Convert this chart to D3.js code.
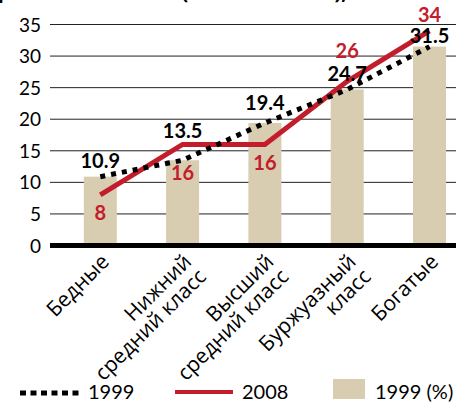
<!DOCTYPE html>
<html>
<head>
  <meta charset="utf-8">
  <script src="https://d3js.org/d3.v7.min.js"></script>
</head>
<style>
  body { margin: 0; background: #fff; }
  svg { display: block; }
  text { font-family: Lato, "Open Sans", sans-serif; }
  text.cyr { font-family: "Open Sans", sans-serif; }
</style>
<body>
<svg width="459" height="404"></svg>
<script>

  // data
  let categories = [["Бедные"], ["Нижний", "средний класс"], ["Высший", "средний класс"], ["Буржуазный", "класс"], ["Богатые"]];
  let values1999 = [10.9, 13.5, 19.4, 24.7, 31.5];
  let values2008 = [8, 16, 16, 26, 34];
  let yTicks = [0, 5, 10, 15, 20, 25, 30, 35];

  // label offsets (layout only)
  let dy1999 = [-9, -22, -13, -9, -4];
  let dy2008 = [25, 36, 26, -23, -9];

  let red = "#c31d2b", tan = "#d8ccb1";

  let svg = d3.select("svg"),
          g = svg.append("g");

  let xScale = d3.scalePoint()
          .domain(d3.range(categories.length))
          .range([100.3, 429.5]);

  let yScale = d3.scaleLinear()
          .domain([0, 35])
          .range([245.5, 24.5]);

  // title, almost all cut off at the top edge
  svg.append("text")
          .attr("class", "cyr")
          .attr("x", 347).attr("y", -1)
          .attr("text-anchor", "end")
          .attr("font-size", 20).attr("font-weight", "bold")
          .text("Социальные классы (1999 и 2008 гг.),");

  // grid
  g.selectAll(".grid")
          .data(yTicks.filter(d => d > 0))
          .enter().append("line")
          .attr("x1", 50).attr("x2", 456)
          .attr("y1", d => yScale(d)).attr("y2", d => yScale(d))
          .attr("stroke", "#222").attr("stroke-width", 1);

  g.selectAll(".ytick")
          .data(yTicks)
          .enter().append("text")
          .attr("x", 41).attr("y", d => yScale(d) + 7)
          .attr("text-anchor", "end")
          .attr("font-size", 19)
          .text(d => d);

  // bars
  let bw = 33;
  g.selectAll(".bar")
          .data(values1999)
          .enter().append("rect")
          .attr("x", (d, i) => xScale(i) - bw / 2)
          .attr("width", bw)
          .attr("y", d => yScale(d))
          .attr("height", d => yScale(0) - yScale(d))
          .attr("fill", tan);

  // zero line
  g.append("line")
          .attr("x1", 50).attr("x2", 456)
          .attr("y1", yScale(0)).attr("y2", yScale(0))
          .attr("stroke", "#000").attr("stroke-width", 5);

  let line = d3.line()
          .x((d, i) => xScale(i))
          .y(d => yScale(d));

  g.append("path")
          .attr("d", line(values2008))
          .attr("fill", "none")
          .attr("stroke", red)
          .attr("stroke-width", 5);

  g.append("path")
          .attr("d", line(values1999))
          .attr("fill", "none")
          .attr("stroke", "#000")
          .attr("stroke-width", 5)
          .attr("stroke-dasharray", "5,6");

  // value labels
  g.selectAll(".l1999")
          .data(values1999)
          .enter().append("text")
          .attr("x", (d, i) => xScale(i))
          .attr("y", (d, i) => yScale(d) + dy1999[i])
          .attr("text-anchor", "middle")
          .attr("font-size", 20).attr("font-weight", "bold")
          .text(d => d);

  g.selectAll(".l2008")
          .data(values2008)
          .enter().append("text")
          .attr("x", (d, i) => xScale(i))
          .attr("y", (d, i) => yScale(d) + dy2008[i])
          .attr("text-anchor", "middle")
          .attr("font-size", 20).attr("font-weight", "bold")
          .attr("fill", red)
          .text(d => d);

  // category labels
  let cat = g.selectAll(".cat")
          .data(categories)
          .enter().append("text")
          .attr("class", "cyr")
          .attr("transform", (d, i) => "translate(" + (xScale(i) + 10) + "," + 263 + ") rotate(-45)")
          .attr("text-anchor", "end")
          .attr("font-size", 21);

  cat.selectAll("tspan")
          .data(d => d)
          .enter().append("tspan")
          .attr("x", 0)
          .attr("dy", (d, i) => i === 0 ? 0 : 21)
          .text(d => d);

  // legend
  let lg = svg.append("g");
  lg.append("line")
          .attr("x1", 20).attr("x2", 80).attr("y1", 393).attr("y2", 393)
          .attr("stroke", "#000").attr("stroke-width", 5).attr("stroke-dasharray", "6,4.5");
  lg.append("text").attr("x", 88).attr("y", 399).attr("font-size", 20).text("1999");
  lg.append("line")
          .attr("x1", 175).attr("x2", 233).attr("y1", 392).attr("y2", 392)
          .attr("stroke", red).attr("stroke-width", 4);
  lg.append("text").attr("x", 242).attr("y", 399).attr("font-size", 20).text("2008");
  lg.append("rect")
          .attr("x", 333).attr("y", 379).attr("width", 32).attr("height", 20)
          .attr("fill", tan);
  lg.append("text").attr("x", 375).attr("y", 399).attr("font-size", 20).text("1999 (%)");

</script>
</body>
</html>
